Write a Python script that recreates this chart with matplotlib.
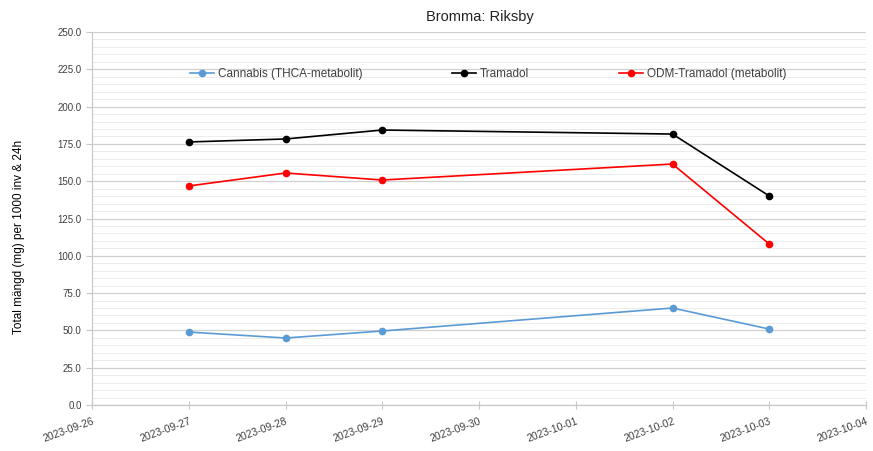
import matplotlib
matplotlib.use("Agg")
import matplotlib.pyplot as plt
import matplotlib.dates as mdates
from matplotlib.ticker import MultipleLocator, FormatStrFormatter
import pandas as pd

plt.rcParams['font.family'] = ['Liberation Sans', 'DejaVu Sans']

dates = ["2023-09-27", "2023-09-28", "2023-09-29", "2023-10-02", "2023-10-03"]
cannabis = [48.9, 44.9, 49.6, 65.0, 50.9]
tramadol = [176.3, 178.3, 184.3, 181.6, 140.1]
odm_tramadol = [146.8, 155.5, 150.8, 161.5, 107.9]
series_names = ["Cannabis (THCA-metabolit)", "Tramadol", "ODM-Tramadol (metabolit)"]
series_colors = ["#5B9BD5", "#000000", "#FF0000"]
title = "Bromma: Riksby"
ylabel = "Total mängd (mg) per 1000 inv & 24h"

x = pd.to_datetime(dates)

fig = plt.figure(figsize=(8.73, 4.51), dpi=100)
ax = fig.add_axes([92/873, 46/451, 774/873, 373/451])

for vals, name, col in zip([cannabis, tramadol, odm_tramadol], series_names, series_colors):
    ax.plot(x, vals, color=col, marker='o', markersize=4.5, linewidth=1.2, label=name)

ax.set_ylim(0, 250)
ax.set_xlim(pd.Timestamp("2023-09-26"), pd.Timestamp("2023-10-04"))
ax.yaxis.set_major_locator(MultipleLocator(25))
ax.yaxis.set_minor_locator(MultipleLocator(5))
ax.yaxis.set_major_formatter(FormatStrFormatter('%.1f'))
ax.xaxis.set_major_locator(mdates.DayLocator())
ax.xaxis.set_major_formatter(mdates.DateFormatter('%Y-%m-%d'))

ax.grid(which='major', axis='y', color='#D0D0D0', linewidth=0.9)
ax.grid(which='minor', axis='y', color='#ECECEC', linewidth=0.7)
ax.set_axisbelow(True)

for s in ['top', 'right']:
    ax.spines[s].set_visible(False)
for s in ['left', 'bottom']:
    ax.spines[s].set_color('#C8C8C8')
    ax.spines[s].set_linewidth(0.9)

ax.tick_params(axis='x', which='major', direction='inout', length=6, color='#C8C8C8', labelsize=7.5, labelcolor='#404040', pad=5)
ax.tick_params(axis='y', which='major', direction='out', length=4, color='#C8C8C8', labelsize=7, labelcolor='#404040')
ax.tick_params(axis='y', which='minor', length=0)
for lbl in ax.get_xticklabels():
    lbl.set_rotation(20)
    lbl.set_ha('right')
    lbl.set_rotation_mode('anchor')

ax.set_ylabel(ylabel, fontsize=8.5, color='#000000')
ax.yaxis.set_label_coords(-0.087, 0.45)
fig.text(0.55, 0.962, title, ha='center', va='center', fontsize=10.5, color='#222222')

leg = ax.legend(loc='center', bbox_to_anchor=(0.512, 0.887), ncol=3, frameon=False,
                fontsize=8.5, columnspacing=7.6, handlelength=2.0, handletextpad=0.35)
for t in leg.get_texts():
    t.set_color('#404040')

fig.savefig("out.png", dpi=100)
